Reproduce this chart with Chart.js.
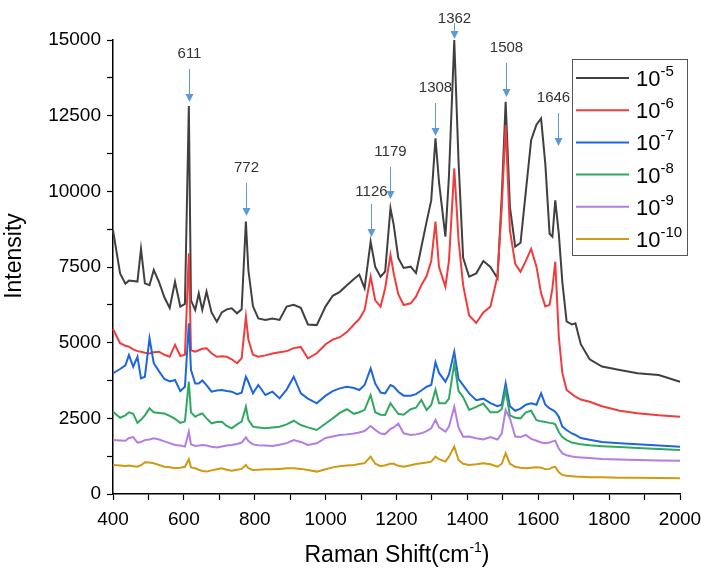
<!DOCTYPE html>
<html>
<head>
<meta charset="utf-8">
<script src="https://cdn.jsdelivr.net/npm/chart.js@4.4.1/dist/chart.umd.min.js"></script>
<style>
  html, body { margin: 0; padding: 0; background: #fff; }
  #wrap { width: 701px; height: 581px; }
</style>
</head>
<body>
<div id="wrap"><canvas id="chart" width="701" height="581"></canvas></div>
<script>
// Raman shift (cm-1) sampled along the spectra
const shifts = [400,420,435,445,457,469,479,490,503,515,
  530,545,560,575,590,603,614,620,632,642,
  652,664,678,693,707,721,735,750,763,775,
  782,795,810,830,850,870,890,910,930,950,
  975,1000,1020,1040,1060,1080,1095,1110,1127,1140,
  1155,1168,1183,1192,1205,1220,1240,1255,1270,1285,
  1298,1310,1320,1338,1348,1363,1375,1388,1405,1425,
  1445,1465,1485,1497,1508,1520,1535,1550,1565,1580,
  1595,1608,1620,1632,1640,1648,1658,1668,1680,1695,
  1705,1720,1745,1780,1830,1880,1940,2000];

const conc1e5 = [8720,7290,6950,7050,7040,7020,8100,6960,6900,7400,
  7000,6500,6150,7015,6190,6280,12820,6400,6080,6630,
  6080,6685,6000,5690,6000,6100,6135,5970,6100,9000,
  7400,6200,5800,5750,5800,5750,6190,6250,6150,5600,
  5580,6200,6550,6680,6900,7100,7250,6800,8335,7500,
  7180,7350,9440,8900,7800,7470,7510,7300,8150,9000,
  9700,11750,10300,8500,10500,15000,11000,7800,7180,7290,
  7700,7500,7125,9820,12960,9490,8170,8300,10000,11700,
  12200,12410,10900,8600,8500,9700,8600,7000,5700,5600,
  5640,4950,4450,4210,4100,3990,3930,3710];

const conc1e6 = [5450,4980,4900,4865,4780,4720,4700,4670,4645,4680,
  4700,4600,4535,4925,4560,4600,7950,4750,4700,4750,
  4800,4815,4650,4535,4550,4535,4450,4320,4485,5860,
  5100,4600,4535,4580,4640,4680,4720,4820,4860,4480,
  4650,4950,5100,5180,5350,5600,5780,6080,7180,6400,
  6190,6800,7900,7300,6600,6245,6300,6520,6900,7200,
  7700,9000,7500,6850,7700,10760,8400,6900,5900,5650,
  6000,6190,7200,9490,12190,8720,7600,7345,7700,8100,
  7510,6630,6200,6250,6800,7675,5200,4000,3435,3300,
  3215,3120,3050,2900,2750,2665,2600,2555];

const conc1e7 = [3990,4130,4250,4590,4205,4535,3820,3875,5145,4320,
  4050,3800,3720,3765,3400,3545,5640,4100,3650,3650,
  3750,3600,3380,3420,3435,3400,3380,3300,3350,3875,
  3700,3325,3600,3270,3380,3160,3450,3875,3325,3150,
  2995,3250,3400,3490,3540,3500,3435,3600,4150,3650,
  3350,3325,3600,3550,3380,3250,3250,3300,3420,3545,
  3600,4350,4000,3710,3950,4700,3800,3600,3325,3100,
  3150,3000,2900,2950,3655,2900,2750,2820,2950,3000,
  2950,3325,2950,2830,2780,2720,2550,2225,2115,2000,
  1950,1850,1790,1720,1680,1640,1600,1565];

const conc1e8 = [2720,2520,2600,2700,2650,2350,2450,2600,2830,2700,
  2680,2660,2580,2480,2350,2400,3710,2700,2550,2620,
  2665,2500,2335,2380,2390,2250,2170,2300,2390,2885,
  2450,2225,2200,2170,2200,2225,2300,2420,2280,2200,
  2115,2330,2500,2680,2800,2650,2700,2780,3270,2700,
  2620,2610,3000,2850,2650,2620,2800,2850,3105,2775,
  2940,3450,3000,3000,3150,4330,3400,3200,2780,2880,
  2990,2700,2700,2800,3435,2600,2520,2500,2700,2750,
  2440,2400,2380,2350,2340,2300,2050,1880,1780,1700,
  1680,1640,1610,1580,1550,1520,1490,1455];

const conc1e9 = [1785,1770,1760,1850,1880,1700,1720,1780,1800,1840,
  1800,1740,1680,1620,1600,1565,2060,1640,1585,1600,
  1620,1600,1560,1540,1570,1600,1620,1650,1700,1875,
  1750,1640,1610,1600,1585,1630,1680,1780,1720,1620,
  1675,1850,1900,1950,1970,2000,2030,2080,2245,2120,
  2000,1980,2150,2200,2330,2005,1950,1970,2005,2080,
  2170,2450,2200,2060,2225,2885,2200,1895,1900,1840,
  1800,1880,1800,2000,2775,2500,1900,1880,1950,1820,
  1760,1700,1680,1700,1740,1760,1500,1340,1280,1240,
  1220,1210,1190,1160,1140,1120,1110,1100];

const conc1e10 = [960,940,925,940,920,900,950,1050,1040,1015,
  960,900,880,850,870,900,1145,880,850,800,
  760,740,780,820,850,800,770,800,830,960,
  850,795,800,815,815,830,850,850,830,790,
  740,820,880,920,940,960,990,1020,1235,1000,
  920,950,1000,1000,930,900,950,990,1015,1040,
  1070,1235,1150,1070,1235,1565,1125,1000,960,980,
  1015,980,900,1000,1345,1000,900,870,850,870,
  880,870,820,830,880,900,720,630,600,590,
  580,570,555,550,540,535,530,520];

const seriesValues = [conc1e5, conc1e6, conc1e7, conc1e8, conc1e9, conc1e10];
const exponents = ['-5', '-6', '-7', '-8', '-9', '-10'];
const colors = ['#404040', '#f03c3c', '#1f66dd', '#30a862', '#b27ee3', '#cf9a12'];

const xTickLabels = [400, 600, 800, 1000, 1200, 1400, 1600, 1800, 2000];
const yTickLabels = [0, 2500, 5000, 7500, 10000, 12500, 15000];

// peak annotations: label, arrow x, arrow tip / tail intensity
const peakLabels = ['611', '772', '1126', '1179', '1308', '1362', '1508', '1646'];
const arrowX = [614, 775, 1127, 1183, 1310, 1363, 1509, 1655];
const arrowTip = [12950, 9185, 8490, 9745, 11830, 15030, 13115, 11500];
const arrowTail = [14040, 10275, 9580, 10805, 12920, 15560, 14240, 12590];
const labelGap = [11, 11, 8, 11, 11, 0, 11, 11];
const labelShift = [0, 0, 0, 0, 0, 0, 0, -5];

const FONT = '"Liberation Sans", Arial, sans-serif';

const datasets = seriesValues.map((vals, i) => ({
    label: '10' + exponents[i],
    data: shifts.map((s, k) => ({ x: s, y: vals[k] })),
    borderColor: colors[i],
    borderWidth: 2,
    pointRadius: 0,
    tension: 0,
    fill: false,
    order: seriesValues.length - i
}));

const overlay = {
    id: 'overlay',
    afterDatasetsDraw(chart) {
        const { ctx, scales: { x, y } } = chart;
        ctx.save();

        // legend box
        const bx = 572, by = 59, bw = 115, bh = 196;
        ctx.fillStyle = '#fff';
        ctx.fillRect(bx, by, bw, bh);
        ctx.strokeStyle = '#555';
        ctx.lineWidth = 1;
        ctx.strokeRect(bx + 0.5, by + 0.5, bw, bh);
        exponents.forEach((ex, i) => {
            const ly = 78 + i * 32.2;
            ctx.strokeStyle = colors[i];
            ctx.lineWidth = 2;
            ctx.beginPath();
            ctx.moveTo(576, ly);
            ctx.lineTo(629, ly);
            ctx.stroke();
            ctx.fillStyle = '#000';
            ctx.textAlign = 'left';
            ctx.font = '22px ' + FONT;
            ctx.fillText('10', 636, ly + 8);
            const w = ctx.measureText('10').width;
            ctx.font = '15px ' + FONT;
            ctx.fillText(ex, 636 + w, ly - 2);
        });

        // arrows + peak labels
        peakLabels.forEach((lab, i) => {
            const px = Math.round(x.getPixelForValue(arrowX[i])) + 0.5;
            const tip = y.getPixelForValue(arrowTip[i]);
            const tail = y.getPixelForValue(arrowTail[i]);
            ctx.strokeStyle = '#5b9bd5';
            ctx.fillStyle = '#5b9bd5';
            ctx.lineWidth = 1;
            ctx.beginPath();
            ctx.moveTo(px, tail);
            ctx.lineTo(px, tip - 6);
            ctx.stroke();
            ctx.beginPath();
            ctx.moveTo(px - 4, tip - 8);
            ctx.lineTo(px + 4, tip - 8);
            ctx.lineTo(px, tip);
            ctx.closePath();
            ctx.fill();
            ctx.fillStyle = '#333';
            ctx.font = '15px ' + FONT;
            ctx.textAlign = 'center';
            ctx.textBaseline = 'alphabetic';
            ctx.fillText(lab, px + labelShift[i], tail - labelGap[i]);
        });

        // axis titles
        ctx.fillStyle = '#000';
        ctx.font = '23px ' + FONT;
        const t1 = 'Raman Shift(cm', t2 = '-1', t3 = ')';
        const w1 = ctx.measureText(t1).width;
        const w3 = ctx.measureText(t3).width;
        ctx.font = '14px ' + FONT;
        const w2 = ctx.measureText(t2).width;
        const tx = 397 - (w1 + w2 + w3) / 2;
        const tb = 562;
        ctx.textAlign = 'left';
        ctx.font = '23px ' + FONT;
        ctx.fillText(t1, tx, tb);
        ctx.font = '14px ' + FONT;
        ctx.fillText(t2, tx + w1, tb - 10);
        ctx.font = '23px ' + FONT;
        ctx.fillText(t3, tx + w1 + w2, tb);

        ctx.translate(13, 256);
        ctx.rotate(-Math.PI / 2);
        ctx.textAlign = 'center';
        ctx.fillText('Intensity', 0, 8);
        ctx.restore();
    }
};

Chart.defaults.color = '#000';

new Chart(document.getElementById('chart'), {
    type: 'line',
    data: { datasets },
    options: {
        responsive: false,
        animation: false,
        clip: false,
        layout: { padding: { top: 40, right: 21, left: 0, bottom: 0 } },
        plugins: { legend: { display: false }, tooltip: { enabled: false } },
        scales: {
            x: {
                type: 'linear',
                min: 400,
                max: 2000,
                afterFit: (scale) => {
                    scale.height = 87;
                    scale.paddingLeft = 0;
                    scale.paddingRight = 0;
                },
                border: { display: true, color: '#000', width: 1.5 },
                grid: { display: true, drawOnChartArea: false, drawTicks: true, tickLength: 6, color: '#000', tickWidth: 1.2 },
                ticks: {
                    stepSize: 100,
                    autoSkip: false,
                    maxRotation: 0,
                    padding: 8,
                    font: { size: 19, family: FONT },
                    callback: (v) => xTickLabels.includes(v) ? String(v) : ''
                }
            },
            y: {
                type: 'linear',
                min: 0,
                max: 15000,
                afterFit: (scale) => {
                    scale.width = 113;
                    scale.paddingTop = 0;
                    scale.paddingBottom = 0;
                },
                border: { display: true, color: '#000', width: 1.5 },
                grid: { display: true, drawOnChartArea: false, drawTicks: true, tickLength: 6, color: '#000', tickWidth: 1.2 },
                ticks: {
                    stepSize: 1250,
                    autoSkip: false,
                    padding: 6,
                    font: { size: 19, family: FONT },
                    callback: (v) => yTickLabels.includes(v) ? String(v) : ''
                }
            }
        }
    },
    plugins: [overlay]
});
</script>
</body>
</html>
